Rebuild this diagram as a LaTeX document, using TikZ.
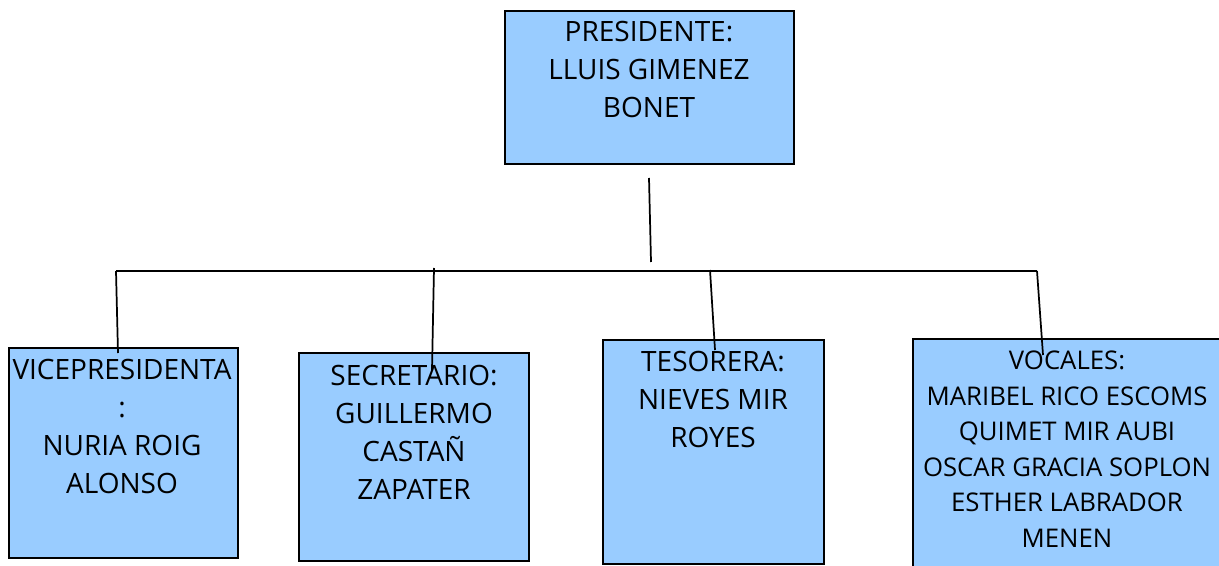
\documentclass[tikz,border=0pt]{standalone}
\usepackage{fontspec}
\setmainfont{Open Sans}
\usepackage{tikz}
\usetikzlibrary{calc}
\definecolor{boxblue}{HTML}{99CCFF}
\tikzset{
  cargo/.style={draw=black, fill=boxblue, line width=1.3pt, inner sep=0pt,
    anchor=north west, minimum width=#1},
  nombre/.style={anchor=north, inner sep=0pt, align=center,
    font=\fontsize{21pt}{28.5pt}\selectfont},
  nombrechico/.style={nombre, font=\fontsize{19.3pt}{26.6pt}\selectfont},
  enlace/.style={line width=1.3pt, black}
}

\begin{document}
\begin{tikzpicture}[x=0.75pt, y=-0.75pt]
\useasboundingbox (0,0) rectangle (1219,566);
\clip (0,0) rectangle (1219,566);
% boxes
\node[cargo=216.75pt, minimum height=114.75pt] (pres) at (504,10) {};
\node[cargo=171.75pt, minimum height=157.5pt] (vice) at (8,347) {};
\node[cargo=172.5pt, minimum height=156pt] (secr) at (298,352) {};
\node[cargo=165.75pt, minimum height=168pt] (teso) at (602,339) {};
\node[cargo=240pt, minimum height=185pt] (voca) at (912,338) {};
% names
\node[nombre] (pres-txt) at (649,21) {PRESIDENTE:\\LLUIS GIMENEZ\\BONET};
\node[nombre] (vice-txt) at (122,359) {VICEPRESIDENTA\\:\\NURIA ROIG\\ALONSO};
\node[nombre] (secr-txt) at (414,365) {SECRETARIO:\\ GUILLERMO\\CASTAÑ\\ZAPATER};
\node[nombre] (teso-txt) at (713,351) {TESORERA:\\NIEVES MIR\\ROYES};
\node[nombrechico] (voca-txt) at (1067,351) {VOCALES:\\MARIBEL RICO ESCOMS\\QUIMET MIR AUBI\\OSCAR GRACIA SOPLON\\ESTHER LABRADOR\\MENEN};
% connector ends
\coordinate (stem-top) at (649,178);
\coordinate (stem-bot) at (651,262);
\coordinate (bar-w) at (116,271);
\coordinate (bar-e) at (1037,271);
\coordinate (secr-top) at (434,268);
\coordinate (teso-top) at (710,270);
\coordinate (vice-end) at (118,353);
\coordinate (secr-end) at (432,370);
\coordinate (teso-end) at (715,350);
\coordinate (voca-end) at (1043,355);
% lines
\draw[enlace] (stem-top) -- (stem-bot);
\draw[enlace] (bar-w) -- (bar-e);
\draw[enlace] (bar-w) -- (vice-end);
\draw[enlace] (secr-top) -- (secr-end);
\draw[enlace] (teso-top) -- (teso-end);
\draw[enlace] (bar-e) -- (voca-end);
\end{tikzpicture}
\end{document}
